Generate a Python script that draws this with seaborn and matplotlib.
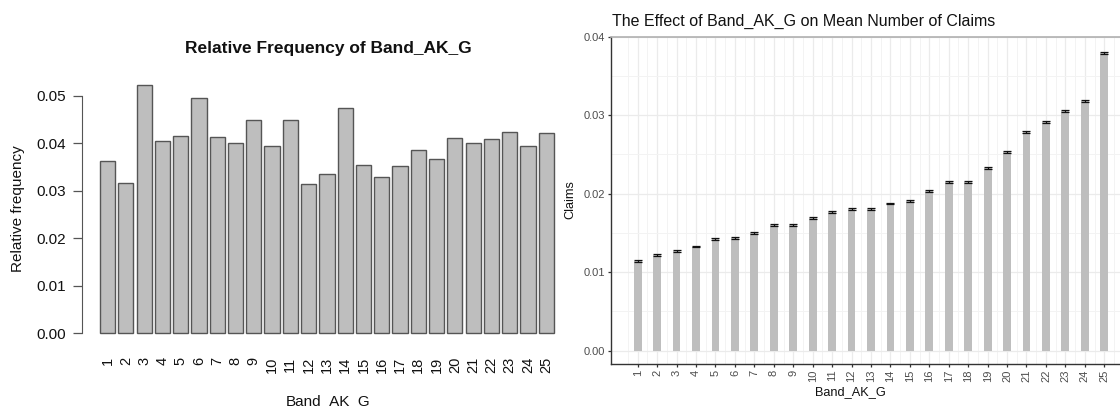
import matplotlib
matplotlib.use("Agg")
import matplotlib.pyplot as plt
from matplotlib.ticker import MultipleLocator, FixedLocator, FuncFormatter
import numpy as np
import pandas as pd
import seaborn as sns

# Band_AK_G levels
bands = [str(i) for i in range(1, 26)]

# Share of policies in each band
rel_freq = [0.03638, 0.03160, 0.05239, 0.04059, 0.04157, 0.04958, 0.04143,
            0.04003, 0.04501, 0.03947, 0.04501, 0.03146, 0.03350, 0.04754,
            0.03553, 0.03301, 0.03532, 0.03855, 0.03680, 0.04108, 0.04003,
            0.04101, 0.04235, 0.03947, 0.04228]

# Mean number of claims per band and its standard error
mean_claims = [0.01141, 0.01222, 0.01269, 0.01325, 0.01423, 0.01436, 0.01500,
               0.01598, 0.01603, 0.01688, 0.01765, 0.01808, 0.01808, 0.01876,
               0.01902, 0.02030, 0.02153, 0.02145, 0.02328, 0.02536, 0.02791,
               0.02919, 0.03051, 0.03183, 0.03791]
claims_se = [0.00010, 0.00010, 0.00010, 0.00010, 0.00010, 0.00010, 0.00010,
             0.00010, 0.00010, 0.00011, 0.00011, 0.00011, 0.00011, 0.00011,
             0.00013, 0.00012, 0.00012, 0.00012, 0.00012, 0.00012, 0.00012,
             0.00012, 0.00012, 0.00012, 0.00013]

freq_df = pd.DataFrame({"band": bands, "freq": rel_freq})
claims_df = pd.DataFrame({"band": bands, "claims": mean_claims, "se": claims_se})

plt.rcParams["font.family"] = ["Liberation Sans", "DejaVu Sans"]

W, H = 1120, 407
fig = plt.figure(figsize=(W / 100, H / 100), dpi=100)


def px_axes(left, right, top, bottom):
    return fig.add_axes([left / W, (H - bottom) / H, (right - left) / W, (bottom - top) / H])


# ---------------- left: relative frequency bar chart ----------------
ax1 = px_axes(81.7, 575.2, 74.6, 343.3)
ax1.patch.set_visible(False)
sns.barplot(data=freq_df, x="band", y="freq", order=bands, ax=ax1,
            color="#BEBEBE", saturation=1, width=1 / 1.2,
            edgecolor="#555555", linewidth=1.0, errorbar=None)
ax1.set_xlim(-1.4167, 25.583)
ax1.set_ylim(-0.0020956, 0.054486)
for s in ("top", "right", "bottom"):
    ax1.spines[s].set_visible(False)
ax1.spines["left"].set_bounds(0, 0.05)
ax1.spines["left"].set_color("#555555")
ax1.yaxis.set_major_locator(FixedLocator([0, 0.01, 0.02, 0.03, 0.04, 0.05]))
ax1.yaxis.set_major_formatter(FuncFormatter(lambda v, p: f"{v:.2f}"))
ax1.tick_params(axis="y", length=6.5, width=0.9, color="#555555", pad=5,
                labelsize=11, labelcolor="#111111")
ax1.tick_params(axis="x", length=0, pad=9.5, labelsize=10.5, labelrotation=90,
                labelcolor="#111111")
for lab in ax1.get_xticklabels():
    lab.set_verticalalignment("top")
ax1.set_xlabel("")
ax1.set_ylabel("")
fig.text(328 / W, 1 - 48 / H, "Relative Frequency of Band_AK_G",
         ha="center", va="center", fontsize=12.5, fontweight="bold", color="#111111")
# x title sits on the bottom edge of the canvas
fig.text(328 / W, 1 - 405.5 / H, "Band_AK_G", ha="center", va="baseline",
         fontsize=11, color="#111111")
fig.text(18 / W, 1 - 209 / H, "Relative frequency", ha="center", va="center",
         rotation=90, fontsize=11, color="#111111")

# ---------------- right: mean claims with error bars ----------------
ax2 = px_axes(610.7, 1120, 36.7, 364)
sns.barplot(data=claims_df, x="band", y="claims", order=bands, ax=ax2,
            color="#BEBEBE", saturation=1, width=0.4, linewidth=0,
            errorbar=None, zorder=2)
ax2.errorbar(x=np.arange(len(bands)), y=claims_df["claims"], yerr=claims_df["se"],
             fmt="none", ecolor="#111111", elinewidth=0.9, capsize=2.9,
             capthick=0.9, zorder=3)
ax2.set_xlim(-1.39, 24.81)
ax2.set_ylim(-0.00169, 0.04)

# panel grid: majors at categories / 0.01, minors halfway between
ax2.set_axisbelow(True)
ax2.xaxis.set_minor_locator(FixedLocator(np.arange(-1.5, 25.0, 1.0)))
ax2.yaxis.set_major_locator(MultipleLocator(0.01))
ax2.yaxis.set_minor_locator(MultipleLocator(0.005))
ax2.yaxis.set_major_formatter(FuncFormatter(lambda v, p: f"{v:.2f}"))
ax2.grid(which="major", color="#EBEBEB", linewidth=0.9)
ax2.grid(which="minor", color="#F3F3F3", linewidth=0.7)

ax2.spines["right"].set_visible(False)
ax2.spines["top"].set_color("#B0B0B0")
ax2.spines["top"].set_linewidth(1.2)
for s in ("left", "bottom"):
    ax2.spines[s].set_color("#333333")
    ax2.spines[s].set_linewidth(1.0)
ax2.tick_params(axis="both", which="minor", length=0)
ax2.tick_params(axis="y", which="major", length=2.2, width=0.9, color="#333333",
                pad=2, labelsize=8, labelcolor="#4D4D4D")
ax2.tick_params(axis="x", which="major", length=2.2, width=0.9, color="#333333",
                pad=2, labelsize=8, labelcolor="#4D4D4D", labelrotation=90)
for lab in ax2.get_xticklabels():
    lab.set_verticalalignment("top")
ax2.set_xlabel("")
ax2.set_ylabel("")
# title is left-aligned with the panel
fig.text(611.5 / W, 1 - 21 / H, "The Effect of Band_AK_G on Mean Number of Claims",
         ha="left", va="center", fontsize=11.5, color="#111111")
fig.text(850 / W, 1 - 392 / H, "Band_AK_G", ha="center", va="center",
         fontsize=9.2, color="#111111")
fig.text(570 / W, 1 - 200 / H, "Claims", ha="center", va="center",
         rotation=90, fontsize=9.2, color="#111111")

fig.savefig("out.png", dpi=100)
